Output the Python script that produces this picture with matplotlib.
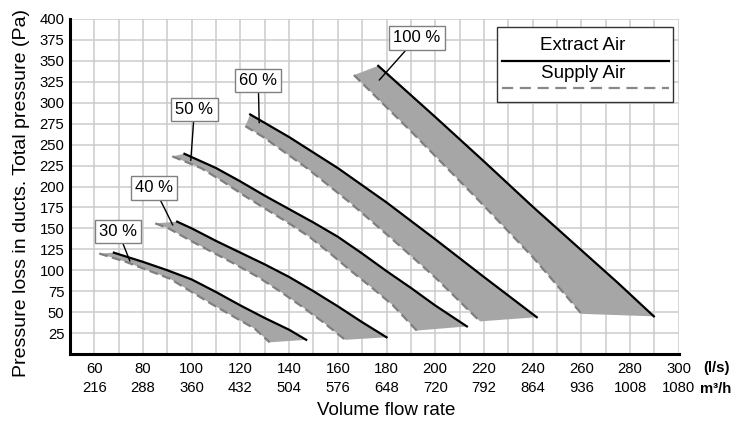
import numpy as np
import matplotlib.pyplot as plt
from matplotlib.patches import Rectangle
from matplotlib.lines import Line2D

plt.rcParams['font.family'] = ['Liberation Sans', 'DejaVu Sans']

# extract air (solid) and supply air (dashed) curves, l/s vs Pa
ext30_x = [68, 80, 90, 100, 110, 120, 130, 140, 147]
ext30_y = [121, 110, 100, 89, 74, 58, 43, 29, 17]
sup30_x = [62, 73, 91, 108, 126, 132]
sup30_y = [120, 110, 90, 60, 30, 14]

ext40_x = [94, 100, 110, 120, 130, 140, 150, 160, 170, 180]
ext40_y = [158, 150, 135, 121, 107, 92, 75, 57, 38, 20]
sup40_x = [85, 90.5, 99.7, 108.9, 118, 127.2, 136.2, 145.1, 154, 163]
sup40_y = [156, 150, 135, 121, 107, 92, 75, 57, 38, 17]

ext50_x = [97, 110, 120, 130, 140, 150, 160, 170, 180, 190, 200, 213]
ext50_y = [239, 222, 206, 189, 173, 157, 140, 120, 99, 79, 58, 33]
sup50_x = [92, 103.8, 112.8, 121.6, 130.5, 139.4, 148.3, 156.9, 165.5, 174.1, 182.7, 192.4]
sup50_y = [236, 222, 206, 189, 173, 157, 140, 120, 99, 79, 58, 28]

ext60_x = [124, 140, 160, 180, 200, 220, 241.7]
ext60_y = [286, 259, 222, 181, 137, 92, 44]
sup60_x = [122, 129.4, 147.3, 164.9, 182.4, 199.8, 218.4]
sup60_y = [272, 259, 222, 181, 137, 92, 39]

ext100_x = [176.6, 200, 220, 240, 260, 275, 289.8]
ext100_y = [344, 283, 230, 176, 124, 85, 45]
sup100_x = [166.6, 190, 218, 240, 260.1]
sup100_y = [333, 266, 183, 116, 48]

bands = [
    (ext30_x, ext30_y, sup30_x, sup30_y),
    (ext40_x, ext40_y, sup40_x, sup40_y),
    (ext50_x, ext50_y, sup50_x, sup50_y),
    (ext60_x, ext60_y, sup60_x, sup60_y),
    (ext100_x, ext100_y, sup100_x, sup100_y),
]

band_labels = ['30 %', '40 %', '50 %', '60 %', '100 %']
label_pos = [(69.7, 146.6), (84.6, 198.3), (101.1, 291.6), (127.3, 326.5), (192.4, 377.3)]
leader_tip = [(74.6, 111), (92.2, 154), (99.6, 231), (127.7, 276), (177, 327)]

ls_ticks = [60, 80, 100, 120, 140, 160, 180, 200, 220, 240, 260, 280, 300]
m3h_ticks = [216, 288, 360, 432, 504, 576, 648, 720, 792, 864, 936, 1008, 1080]
pa_ticks = list(range(25, 401, 25))

fig = plt.figure(figsize=(7.45, 4.21), dpi=100)
ax = fig.add_axes([0.094, 0.159, 0.817, 0.796])

for ex, ey, sx, sy in bands:
    px = list(sx) + list(ex)[::-1]
    py = list(sy) + list(ey)[::-1]
    ax.fill(px, py, color='#a6a6a6', lw=0, zorder=2)
    ax.plot(sx, sy, color='#7f7f7f', lw=1.6, ls=(0, (4, 2)), zorder=3)
    ax.plot(ex, ey, color='black', lw=1.6, zorder=4)

for lab, pos, tip in zip(band_labels, label_pos, leader_tip):
    ax.annotate(lab, xy=tip, xytext=pos, ha='center', va='center', fontsize=12,
                bbox=dict(boxstyle='square,pad=0.25', fc='white', ec='#808080', lw=1),
                arrowprops=dict(arrowstyle='-', color='black', lw=1, shrinkA=0, shrinkB=0),
                zorder=6)

ax.set_xlim(50, 300)
ax.set_ylim(0, 400)
ax.set_xticks(ls_ticks)
ax.set_xticklabels([f'{a}\n{b}' for a, b in zip(ls_ticks, m3h_ticks)], fontsize=10.7)
ax.set_xticks(np.arange(50, 301, 10), minor=True)
ax.set_yticks(pa_ticks)
ax.set_yticklabels([str(v) for v in pa_ticks], fontsize=10.7)
for lbl in ax.get_xticklabels():
    lbl.set_linespacing(1.45)
ax.tick_params(axis='both', which='both', length=0)
ax.tick_params(axis='x', pad=6)
ax.tick_params(axis='y', pad=4)

ax.grid(True, which='both', axis='x', color='#cccccc', lw=1.1)
ax.grid(True, which='major', axis='y', color='#cccccc', lw=1.1)
ax.set_axisbelow(True)
for side in ['top', 'right']:
    ax.spines[side].set_visible(False)
for side in ['left', 'bottom']:
    ax.spines[side].set_linewidth(2.2)
    ax.spines[side].set_zorder(7)

# legend drawn by hand to match the boxed two-row style
ax.add_patch(Rectangle((0.702, 0.751), 0.289, 0.224, transform=ax.transAxes,
                       fc='white', ec='#333333', lw=1, zorder=8))
ax.text(0.843, 0.922, 'Extract Air', transform=ax.transAxes, ha='center', va='center',
        fontsize=13.5, zorder=9)
ax.add_line(Line2D([0.709, 0.984], [0.8745, 0.8745], transform=ax.transAxes,
                   color='black', lw=1.6, zorder=9))
ax.text(0.843, 0.836, 'Supply Air', transform=ax.transAxes, ha='center', va='center',
        fontsize=13.5, zorder=9)
ax.add_line(Line2D([0.709, 0.984], [0.795, 0.795], transform=ax.transAxes,
                   color='#888888', lw=1.6, ls=(0, (5, 3)), zorder=9))

fig.text(22 / 745, 1 - 193 / 421, 'Pressure loss in ducts. Total pressure (Pa)',
         rotation=90, ha='center', va='center', fontsize=14)
fig.text(0.519, 0.026, 'Volume flow rate', ha='center', va='center', fontsize=13.5)
fig.text(716 / 745, 1 - 368 / 421, '(l/s)', ha='center', va='center', fontsize=10.7, weight='bold')
fig.text(716 / 745, 1 - 389 / 421, 'm³/h', ha='center', va='center', fontsize=10.7, weight='bold')

fig.savefig('out.png', dpi=100)
